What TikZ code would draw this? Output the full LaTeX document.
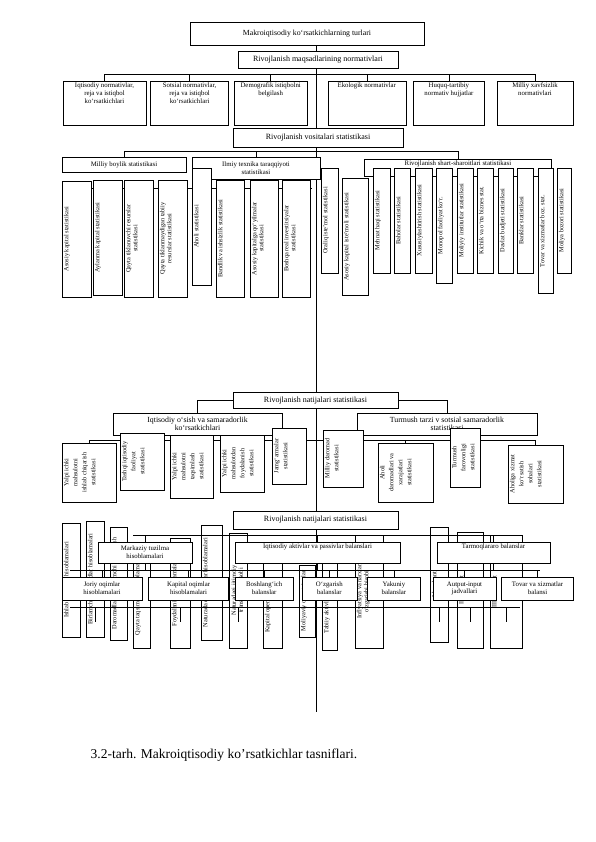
\documentclass[tikz,border=0pt]{standalone}
\usepackage{fontspec}
\setmainfont{Liberation Serif}
\usetikzlibrary{positioning}
\tikzstyle{hbox}=[rectangle, draw=black, fill=white, line width=0.6pt, inner sep=1pt,
                  align=center, font=\fontsize{8}{9}\selectfont]
\tikzstyle{sbox}=[rectangle, draw=black, fill=white, line width=0.6pt, inner sep=1pt,
                  align=center, font=\fontsize{6.8}{7.8}\selectfont]
\tikzstyle{ebox}=[rectangle, draw=black, fill=white, line width=0.6pt, inner sep=0pt]
\tikzstyle{ttxt}=[anchor=north, align=center, inner sep=2pt, font=\fontsize{6.8}{7.8}\selectfont]
\tikzstyle{vtxt}=[rotate=90, anchor=north, align=center, inner sep=2pt, font=\fontsize{6.3}{7}\selectfont]
\tikzstyle{vtxtw}=[rotate=90, anchor=north, align=center, inner sep=2pt, font=\fontsize{6.3}{9}\selectfont]
\tikzstyle{pline}=[-, line width=0.6pt]
\begin{document}
\begin{tikzpicture}[x=1pt, y=-1pt]
\useasboundingbox (0,0) rectangle (596,842);

\node (TURLAR) [hbox, font=\fontsize{7.8}{9}\selectfont, minimum width=234pt, minimum height=23pt] at (307,33.5) {Makroiqtisodiy ko‘rsatkichlarning turlari};
\coordinate (AXIS) at (316,712);
 \draw[pline] (TURLAR.south -| AXIS) -- (AXIS);

\node (MAQSAD) [hbox, minimum width=160pt, minimum height=17pt] at (318,59.5) {Rivojlanish maqsadlarining normativlari};

\node (NIQT) [ebox, minimum width=83pt, minimum height=44pt] at (104.5,103) {};
\node (NSOT) [ebox, minimum width=78pt, minimum height=44pt, right=4pt of NIQT] {};
\node (NDEM) [ebox, minimum width=73pt, minimum height=44pt, right=5pt of NSOT] {};
\node (NEKO) [ebox, minimum width=78pt, minimum height=44pt, right=20pt of NDEM] {};
\node (NHUQ) [ebox, minimum width=71pt, minimum height=44pt, right=7pt of NEKO] {};
\node (NMIL) [ebox, minimum width=76pt, minimum height=44pt, right=12pt of NHUQ] {};
\node (NIQTt) [ttxt] at (NIQT.north) {Iqtisodiy normativlar,\\reja va istiqbol\\ko‘rsatkichlari};
\node (NSOTt) [ttxt] at (NSOT.north) {Sotsial normativlar,\\reja va istiqbol\\ko‘rsatkichlari};
\node (NDEMt) [ttxt] at (NDEM.north) {Demografik istiqbolni\\belgilash};
\node (NEKOt) [ttxt] at (NEKO.north) {Ekologik normativlar};
\node (NHUQt) [ttxt] at (NHUQ.north) {Huquq-tartibiy\\normativ hujjatlar};
\node (NMILt) [ttxt] at (NMIL.north) {Milliy xavfsizlik\\normativlari};
 \draw[pline] (NIQT.north) -- ++(0,-6) -| (NMIL.north);
 \foreach \n in {NSOT,NDEM,NEKO,NHUQ} \draw[pline] (\n.north) -- ++(0,-6);

\node (VOSITA) [hbox, minimum width=170pt, minimum height=19pt] at (318,137.5) {Rivojlanish vositalari statistikasi};

\node (MILLIY) [sbox, minimum width=124pt, minimum height=15pt] at (124,164.5) {Milliy boylik statistikasi};
\node (ILMIY) [sbox, minimum width=128pt, minimum height=22pt] at (256,168) {Ilmiy texnika taraqqiyoti\\statistikasi};
\node (SHART) [ebox, minimum width=187pt, minimum height=17pt] at (458,167.5) {};
\node (SHARTt) [ttxt, inner sep=1.5pt] at (SHART.north) {Rivojlanish shart-sharoitlari statistikasi};
 \draw[pline] (MILLIY.north) -- ++(0,-5) -| (SHART.north);
 \draw[pline] (ILMIY.north) -- ++(0,-5);
\coordinate (HBL) at (62,188);
\coordinate (HBR) at (312,188);
 \draw[pline] (HBL) -- (HBR);

% milliy boylik va ilmiy texnika
\node (ASK) [ebox, minimum width=29pt, minimum height=116pt] at (76.5,239) {};
\node (ASKt) [vtxt] at (ASK.west) {Asosiy kapital statistikasi};
\node (AYK) [ebox, minimum width=29pt, minimum height=115pt] at (107.5,237.5) {};
\node (AYKt) [vtxt] at (AYK.west) {Aylanma kapital statistikasi};
\node (QTR) [ebox, minimum width=29pt, minimum height=117pt] at (138.5,238.5) {};
\node (QTRt) [vtxt] at (QTR.west) {Qayta tiklanuvchi resurslar\\statistikasi};
\node (QTM) [ebox, minimum width=29pt, minimum height=117pt] at (172.5,238.5) {};
\node (QTMt) [vtxt] at (QTM.west) {Qayta tiklanmaydigan tabiiy\\resurslar statistikasi};
\node (AHOLI) [ebox, minimum width=19pt, minimum height=117pt] at (201.5,226.5) {};
\node (AHOLIt) [vtxt] at (AHOLI.west) {Aholi statistikasi};
\node (BAND) [ebox, minimum width=28pt, minimum height=117pt] at (230,238.5) {};
\node (BANDt) [vtxt] at (BAND.west) {Bandlik va ishsizlik statistikasi};
\node (AKQ) [ebox, minimum width=28pt, minimum height=117pt] at (264,238.5) {};
\node (AKQt) [vtxt] at (AKQ.west) {Asosiy kapitalga qo‘yilmalar\\statistikasi};
\node (BRI) [ebox, minimum width=28pt, minimum height=117pt] at (296,238.5) {};
\node (BRIt) [vtxt] at (BRI.west) {Boshqa real investitsiyalar\\statistikasi};

% shart-sharoitlar
\node (ORAL) [ebox, minimum width=17pt, minimum height=105pt] at (329.5,220.5) {};
\node (ORALt) [vtxt] at (ORAL.west) {Oraliq iste’mol statistikasi};
\node (AKI) [ebox, minimum width=26pt, minimum height=117pt] at (355,236.5) {};
\node (AKIt) [vtxt] at (AKI.west) {Asosiy kapital iste’moli statistikasi};
\node (MEH) [ebox, minimum width=17pt, minimum height=105pt] at (381.5,220.5) {};
\node (MEHt) [vtxt] at (MEH.west) {Mehnat haqi statistikasi};
\node (BAHO) [ebox, minimum width=16pt, minimum height=105pt] at (402,220.5) {};
\node (BAHOt) [vtxt] at (BAHO.west) {Baholar statistikasi};
\node (XUS) [ebox, minimum width=17pt, minimum height=105pt] at (423.5,220.5) {};
\node (XUSt) [vtxt] at (XUS.west) {Xususiylashtirish statistikasi};
\node (MON) [ebox, minimum width=16pt, minimum height=115pt] at (444,225.5) {};
\node (MONt) [vtxt] at (MON.west) {Monopol faoliyat ko‘r.};
\node (MOLI) [ebox, minimum width=16pt, minimum height=105pt] at (465,220.5) {};
\node (MOLIt) [vtxt] at (MOLI.west) {Moliyiy institutlar statistikasi};
\node (KOB) [ebox, minimum width=16pt, minimum height=105pt] at (485,220.5) {};
\node (KOBt) [vtxt] at (KOB.west) {Kichik va o‘rta biznes stat.};
\node (DAVB) [ebox, minimum width=15pt, minimum height=105pt] at (505.5,220.5) {};
\node (DAVBt) [vtxt] at (DAVB.west) {Davlat budjeti statistikasi};
\node (BANK) [ebox, minimum width=16pt, minimum height=105pt] at (525,220.5) {};
\node (BANKt) [vtxt] at (BANK.west) {Banklar statistikasi};
\node (TOVB) [ebox, minimum width=15pt, minimum height=125pt] at (545.5,231) {};
\node (TOVBt) [vtxt] at (TOVB.west) {Tovar va xizmatlar boz. stat.};
\node (MOLB) [ebox, minimum width=14pt, minimum height=105pt] at (564,220.5) {};
\node (MOLBt) [vtxt] at (MOLB.west) {Moliya bozori statistikasi};

% natijalari (1)
\node (NAT1) [hbox, minimum width=165pt, minimum height=16pt] at (315.5,400.5) {Rivojlanish natijalari statistikasi};
\node (IQO) [hbox, font=\fontsize{7.8}{8.5}\selectfont, minimum width=169pt, minimum height=22pt] at (197.5,424) {Iqtisodiy o‘sish va samaradorlik\\ko‘rsatkichlari};
\node (TUR) [hbox, font=\fontsize{7.8}{8.5}\selectfont, minimum width=180pt, minimum height=22pt] at (447,424) {Turmush tarzi v sotsial samaradorlik\\statistikasi};
 \draw[pline] (NAT1.west) -| (IQO.north);
 \draw[pline] (NAT1.east) -| (TUR.north);
\coordinate (B440L) at (89,440);
\coordinate (B440R) at (535.5,440);
 \draw[pline] (B440L) -- (B440R);

\node (YIM) [ebox, minimum width=54pt, minimum height=59pt] at (89,472.5) {};
\node (YIMt) [vtxtw] at (YIM.west) {Yalpi ichki\\mahsulotni\\ishlab chiqarish\\statistikasi};
\node (TIF) [ebox, minimum width=44pt, minimum height=57pt] at (142,461.5) {};
\node (TIFt) [vtxtw] at (TIF.west) {Tashqi iqtisodiy\\faoliyat\\statistikasi};
\node (YIT) [ebox, minimum width=43pt, minimum height=63pt] at (191.5,466.5) {};
\node (YITt) [vtxtw] at (YIT.west) {Yalpi ichki\\mahsulotni\\taqsimlash\\statistikasi};
\node (YIF) [ebox, minimum width=44pt, minimum height=57pt] at (242,463.5) {};
\node (YIFt) [vtxtw] at (YIF.west) {Yalpi ichki\\mahsulotdan\\foydalanish\\statistikasi};
\node (JAM) [ebox, minimum width=34pt, minimum height=56pt] at (289,456) {};
\node (JAMt) [vtxtw] at (JAM.west) {Jamg‘armalar\\statistikasi};
\node (MDS) [ebox, minimum width=40pt, minimum height=57pt] at (343,458.5) {};
\node (MDSt) [vtxtw] at (MDS.west) {Milliy daromad\\statistikasi};
\node (AHD) [ebox, minimum width=55pt, minimum height=59pt] at (405.5,472.5) {};
\node (AHDt) [vtxtw] at (AHD.west) {Aholi\\daromadlari va\\xarajatlari\\statistikasi};
\node (TFS) [ebox, minimum width=30pt, minimum height=59pt] at (465,457.5) {};
\node (TFSt) [vtxtw] at (TFS.west) {Turmush\\farovonligi\\statistikasi};
\node (AXK) [ebox, minimum width=55pt, minimum height=58pt] at (535.5,474) {};
\node (AXKt) [vtxtw] at (AXK.west) {Aholiga xizmat\\ko‘rsatish\\sohalari\\statistikasi};
 \foreach \n in {YIM,AHD,AXK} \draw[pline] (\n.north) -- (\n.north |- B440L);

% natijalari (2)
\node (NAT2) [hbox, minimum width=165pt, minimum height=18pt] at (315.5,520) {Rivojlanish natijalari statistikasi};

\node (ISHC) [ebox, minimum width=18pt, minimum height=114pt] at (71,580) {};
\node (ISHCt) [vtxt] at (ISHC.west) {Ishlab chiqarish hisoblamalari};
\node (BIRL) [ebox, minimum width=18pt, minimum height=116pt] at (95,579) {};
\node (BIRLt) [vtxt] at (BIRL.west) {Birlamchi daromadlar hisoblamalari};
\node (DARO) [ebox, minimum width=17pt, minimum height=113pt] at (118.5,583.5) {};
\node (DAROt) [vtxt] at (DARO.west) {Daromadlarni ikkilamchi taqsimlash};
\node (QAYT) [ebox, minimum width=17pt, minimum height=105pt] at (141.5,595.5) {};
\node (QAYTt) [vtxt] at (QAYT.west) {Qayta taqsimlash hisoblamalari};
\node (FOYD) [ebox, minimum width=20pt, minimum height=110pt] at (180,593) {};
\node (FOYDt) [vtxt] at (FOYD.west) {Foydalanish hisoblamalari};
\node (NATD) [ebox, minimum width=21pt, minimum height=115pt] at (211.5,582.5) {};
\node (NATDt) [vtxt] at (NATD.west) {Naturada daromadlar hisoblamalari};
\node (NATI) [ebox, minimum width=18pt, minimum height=115pt] at (238.5,590.5) {};
\node (NATIt) [vtxt] at (NATI.west) {Naturadagi ijtimoiy\\transfertlar hisobi};
\node (KAPO) [ebox, minimum width=19pt, minimum height=85pt] at (272.5,605.5) {};
\node (KAPOt) [vtxt] at (KAPO.west) {Kapital operatsiyalari};
\node (MOLO) [ebox, minimum width=16pt, minimum height=72pt] at (307,601) {};
\node (MOLOt) [vtxt] at (MOLO.west) {Moliyaviy operatsiyalar};
\node (TABA) [ebox, minimum width=15pt, minimum height=87pt] at (329.5,606.5) {};
\node (TABAt) [vtxt] at (TABA.west) {Tabiiy aktivlar hisobi};
\node (INFL) [ebox, minimum width=28pt, minimum height=113pt] at (369,591.5) {};
\node (INFLt) [vtxt] at (INFL.west) {Inflyatsiya va narxlar\\o‘zgarishi hisobi};
\node (KV1) [ebox, minimum width=18pt, minimum height=115pt] at (439,584.5) {};
\node (KV1t) [vtxt] at (KV1.west) {I-kvadrant};
\node (KV2) [ebox, minimum width=26pt, minimum height=116pt] at (470,590) {};
\node (KV2t) [vtxt] at (KV2.west) {II-kvadrant};
\node (KV3) [ebox, minimum width=32pt, minimum height=113pt] at (506,591.5) {};
\node (KV3t) [vtxt] at (KV3.west) {III- kvadrant};

\coordinate (B535L) at (133,535);
\coordinate (B535R) at (520,535);
\coordinate (B570L) at (70,570);
\coordinate (B570R) at (540,570);
 \draw[pline] (B535L) -- (B535R);
 \draw[pline] (B570L) -- (B570R);

\node (MRK) [sbox, minimum width=94pt, minimum height=21pt] at (145,552.5) {Markaziy tuzilma\\hisoblamalari};
\node (IAP) [ebox, minimum width=165pt, minimum height=21pt] at (317.5,552.5) {};
\node (IAPt) [ttxt] at (IAP.north) {Iqtisodiy aktivlar va passivlar balanslari};
\node (TAR) [ebox, minimum width=113pt, minimum height=21pt] at (493.5,552.5) {};
\node (TARt) [ttxt] at (TAR.north) {Tarmoqlararo balanslar};

\node (JOQ) [sbox, minimum width=80pt, minimum height=23pt] at (102,588.5) {Joriy oqimlar\\hisoblamalari};
\node (KOQ) [sbox, minimum width=80pt, minimum height=23pt, right=6pt of JOQ] {Kapital oqimlar\\hisoblamalari};
\node (BBL) [sbox, minimum width=58pt, minimum height=23pt, right=6pt of KOQ] {Boshlang‘ich\\balanslar};
\node (OZB) [sbox, minimum width=55pt, minimum height=23pt, right=8pt of BBL] {O‘zgarish\\balanslar};
\node (YAK) [sbox, minimum width=53pt, minimum height=23pt, right=10pt of OZB] {Yakuniy\\balanslar};
\node (AIJ) [sbox, minimum width=63pt, minimum height=23pt, right=12pt of YAK] {Autput-input\\jadvallari};
\node (TXB) [sbox, minimum width=72pt, minimum height=23pt, right=5pt of AIJ] {Tovar va xizmatlar\\balansi};

 \foreach \n in {MRK,IAP,TAR} \draw[pline] (\n.north) -- (\n.north |- B535L);
 \foreach \n in {MRK,IAP,TAR} \draw[pline] (\n.south) -- (\n.south |- B570L);
 \foreach \n in {JOQ,KOQ,BBL,OZB,YAK,AIJ,TXB} \draw[pline] (\n.north) -- (\n.north |- B570L);
\coordinate (B607L) at (70,607);
\coordinate (B607R) at (520,607);
 \draw[pline] (B607L) -- (B607R);
 \foreach \n in {BIRL,FOYD,NATI,KV1,KV2,KV3} \draw[pline] (\n |- B607L) -- ++(0,15);

\node (TARH) [font=\fontsize{13.5}{15}\selectfont] at (224,755) {3.2-tarh. Makroiqtisodiy ko’rsatkichlar tasniflari.};

\end{tikzpicture}
\end{document}
